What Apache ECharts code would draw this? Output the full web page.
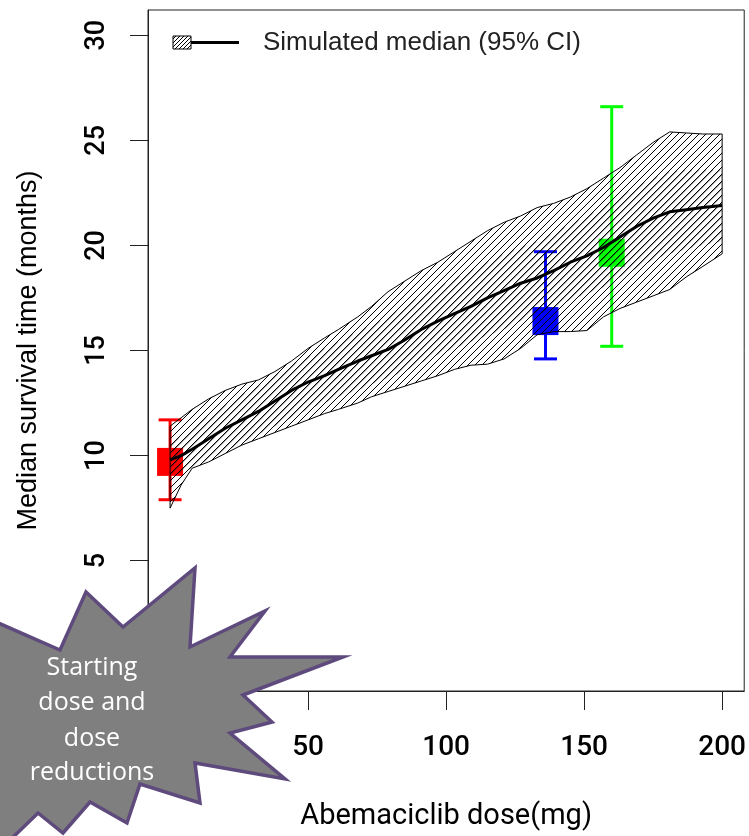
<!DOCTYPE html>
<html>
<head>
<meta charset="utf-8">
<script src="https://cdn.jsdelivr.net/npm/echarts@6/dist/echarts.min.js"></script>
<style>
html,body{margin:0;padding:0;background:#fff;}
#chart{width:749px;height:836px;}
</style>
</head>
<body>
<div id="chart"></div>
<script>
// ---- data ----
const doseGrid = [0,4,8,14,20,26,32,38,44,50,56,61,68,73,79,85,91,97,103,109,115,121,127,133,139,145,151,157,163,169,175,181,187,193,200];
const ciUpper  = [11.4,11.8,12.2,12.7,13.1,13.4,13.6,14.0,14.5,15.1,15.6,16.0,16.6,17.1,17.8,18.3,18.8,19.2,19.7,20.2,20.7,21.1,21.4,21.8,22.0,22.3,22.7,23.2,23.7,24.3,24.9,25.4,25.35,25.3,25.3];
const ciLower  = [7.5,8.6,9.4,9.7,10.1,10.5,10.8,11.1,11.4,11.7,12.0,12.2,12.5,12.8,13.05,13.3,13.55,13.8,14.1,14.3,14.35,14.6,15.1,15.75,15.9,15.9,15.95,16.6,17.0,17.3,17.6,17.9,18.5,19.0,19.6];
const medianVal= [9.8,10.0,10.3,10.8,11.3,11.7,12.1,12.6,13.1,13.5,13.8,14.1,14.5,14.75,15.05,15.5,16.0,16.4,16.75,17.1,17.5,17.85,18.2,18.45,18.8,19.2,19.5,19.9,20.4,20.9,21.3,21.6,21.7,21.8,21.9];
const innerHi  = [10.6,10.9,11.3,11.9,12.4,12.9,13.3,13.8,14.3,14.7,15.1,15.4,15.9,16.2,16.6,17.1,17.6,18.0,18.4,18.8,19.2,19.6,19.9,20.2,20.6,21.0,21.4,21.8,22.3,22.8,23.2,23.5,23.6,23.6,23.6];
const innerLo  = [9.0,9.2,9.4,9.8,10.2,10.6,11.0,11.4,11.8,12.2,12.5,12.8,13.1,13.4,13.7,14.0,14.4,14.8,15.1,15.4,15.7,16.0,16.4,16.7,17.0,17.4,17.7,18.0,18.5,18.9,19.3,19.6,19.8,20.0,20.2];

const obsDose  = [0, 136, 160];
const obsMid   = [9.7, 16.4, 19.65];
const obsLow   = [7.9, 14.6, 15.2];
const obsHigh  = [11.7, 19.7, 26.6];
const obsColor = ['#ff0000', '#0000ff', '#00ff00'];

const xTicks = [0, 50, 100, 150, 200];
const yTicks = [0, 5, 10, 15, 20, 25, 30];
const legendLabel = 'Simulated median (95% CI)';
const xTitle = 'Abemaciclib dose(mg)';
const yTitle = 'Median survival time (months)';
const starLines = ['Starting', 'dose and', 'dose', 'reductions'];

// ---- hatch patterns ----
function makeHatch(size, offset, width, color) {
  const c = document.createElement('canvas');
  c.width = size; c.height = size;
  const g = c.getContext('2d');
  g.strokeStyle = color;
  g.lineWidth = width;
  g.beginPath();
  for (let k = -1; k <= 1; k++) {
    g.moveTo(-size + k * size + offset, size * 2);
    g.lineTo(size * 2 + k * size + offset, -size);
  }
  g.stroke();
  return {image: c, repeat: 'repeat'};
}
const hatchMain = makeHatch(7, 0, 1, '#000');
const hatchInner = makeHatch(7, 1.1, 0.8, 'rgba(0,0,0,0.55)');
const hatchLegend = makeHatch(4, 0, 1, '#000');

const chart = echarts.init(document.getElementById('chart'), null, {renderer: 'canvas'});

function bandItem(api, up, lo, fill, stroke) {
  const pts = [];
  for (let i = 0; i < doseGrid.length; i++) pts.push(api.coord([doseGrid[i], up[i]]));
  for (let i = doseGrid.length - 1; i >= 0; i--) pts.push(api.coord([doseGrid[i], lo[i]]));
  return {type: 'polygon', shape: {points: pts}, style: {fill: fill, stroke: stroke, lineWidth: 1}};
}

// star annotation (decorative callout)
const starPts = [[-20,615],[60,650],[86,592],[123,627],[195,568],[190,647],[265,611],[230,657],[343,657],[243,695],[272,722],[230,733],[285,779],[195,763],[200,803],[140,784],[127,823],[90,802],[63,833],[38,813],[5,845],[-20,860]];

const fontFam = '"Liberation Sans", Arial, sans-serif';
const tickFam = 'Roboto, "Liberation Sans", Arial, sans-serif';

chart.setOption({
  animation: false,
  grid: {left: 148, top: 10, width: 597, height: 681, show: true, borderColor: '#222', borderWidth: 1, backgroundColor: 'transparent'},
  xAxis: {
    type: 'value', min: -8, max: 208,
    axisLine: {show: true, onZero: false, lineStyle: {color: '#222', width: 1}},
    axisTick: {show: true, length: 19, customValues: xTicks, lineStyle: {color: '#222', width: 1}},
    axisLabel: {customValues: xTicks, margin: 43, fontSize: 28, fontWeight: 500, color: '#000', fontFamily: tickFam},
    splitLine: {show: false},
    name: xTitle, nameLocation: 'middle', nameGap: 111,
    nameTextStyle: {fontSize: 29, color: '#000', fontFamily: tickFam}
  },
  yAxis: {
    type: 'value', min: -1.2, max: 31.2,
    axisLine: {show: true, onZero: false, lineStyle: {color: '#222', width: 1}},
    axisTick: {show: true, length: 18, customValues: yTicks, lineStyle: {color: '#222', width: 1}},
    axisLabel: {customValues: yTicks, rotate: 90, margin: 37, fontSize: 27, fontWeight: 500, color: '#000', fontFamily: tickFam},
    splitLine: {show: false},
    name: yTitle, nameLocation: 'middle', nameGap: 106, nameRotate: 90,
    nameTextStyle: {fontSize: 27, color: '#000', fontFamily: fontFam}
  },
  series: [
    {
      type: 'custom', name: 'observed', z: 2, silent: true, clip: false,
      data: obsDose.map((d, i) => [d, obsMid[i], obsLow[i], obsHigh[i], i]),
      renderItem: function (params, api) {
        const i = api.value(4);
        const c = obsColor[i];
        const m = api.coord([api.value(0), api.value(1)]);
        const lo = api.coord([api.value(0), api.value(2)]);
        const hi = api.coord([api.value(0), api.value(3)]);
        const cap = 11.5;
        return {type: 'group', children: [
          {type: 'line', shape: {x1: m[0], y1: lo[1], x2: m[0], y2: hi[1]}, style: {stroke: c, lineWidth: 3}},
          {type: 'line', shape: {x1: m[0] - cap, y1: lo[1], x2: m[0] + cap, y2: lo[1]}, style: {stroke: c, lineWidth: 3}},
          {type: 'line', shape: {x1: m[0] - cap, y1: hi[1], x2: m[0] + cap, y2: hi[1]}, style: {stroke: c, lineWidth: 3}},
          {type: 'rect', shape: {x: m[0] - 13, y: m[1] - 14, width: 26, height: 28}, style: {fill: c}}
        ]};
      }
    },
    {
      type: 'custom', name: 'band', z: 3, silent: true, clip: false,
      data: [[0, 0]],
      renderItem: function (params, api) {
        return {type: 'group', children: [
          bandItem(api, ciUpper, ciLower, hatchMain, '#000'),
          bandItem(api, innerHi, innerLo, hatchInner, null)
        ]};
      }
    },
    {
      type: 'line', name: legendLabel, z: 4, silent: true,
      data: doseGrid.map((d, i) => [d, medianVal[i]]),
      showSymbol: false, symbol: 'none',
      lineStyle: {color: '#000', width: 3}
    }
  ],
  graphic: [
    {type: 'rect', z: 10, shape: {x: 173, y: 36, width: 18, height: 13}, style: {fill: hatchLegend, stroke: '#000', lineWidth: 1}},
    {type: 'line', z: 10, shape: {x1: 191, y1: 42.5, x2: 239, y2: 42.5}, style: {stroke: '#000', lineWidth: 3}},
    {type: 'text', z: 10, x: 263, y: 43, style: {text: legendLabel, font: '26px ' + fontFam, fill: '#222', verticalAlign: 'middle', textAlign: 'left'}},
    {type: 'polygon', z: 20, shape: {points: starPts}, style: {fill: '#7f7f7f', stroke: '#5e4a7c', lineWidth: 3.5, lineJoin: 'miter'}},
    {type: 'text', z: 21, x: 92, y: 668, style: {text: starLines[0], font: '25px "Open Sans", sans-serif', fill: '#ffffff', textAlign: 'center', verticalAlign: 'middle'}},
    {type: 'text', z: 21, x: 92, y: 703, style: {text: starLines[1], font: '25px "Open Sans", sans-serif', fill: '#ffffff', textAlign: 'center', verticalAlign: 'middle'}},
    {type: 'text', z: 21, x: 92, y: 739, style: {text: starLines[2], font: '25px "Open Sans", sans-serif', fill: '#ffffff', textAlign: 'center', verticalAlign: 'middle'}},
    {type: 'text', z: 21, x: 92, y: 773, style: {text: starLines[3], font: '25px "Open Sans", sans-serif', fill: '#ffffff', textAlign: 'center', verticalAlign: 'middle'}}
  ]
});
</script>
</body>
</html>
